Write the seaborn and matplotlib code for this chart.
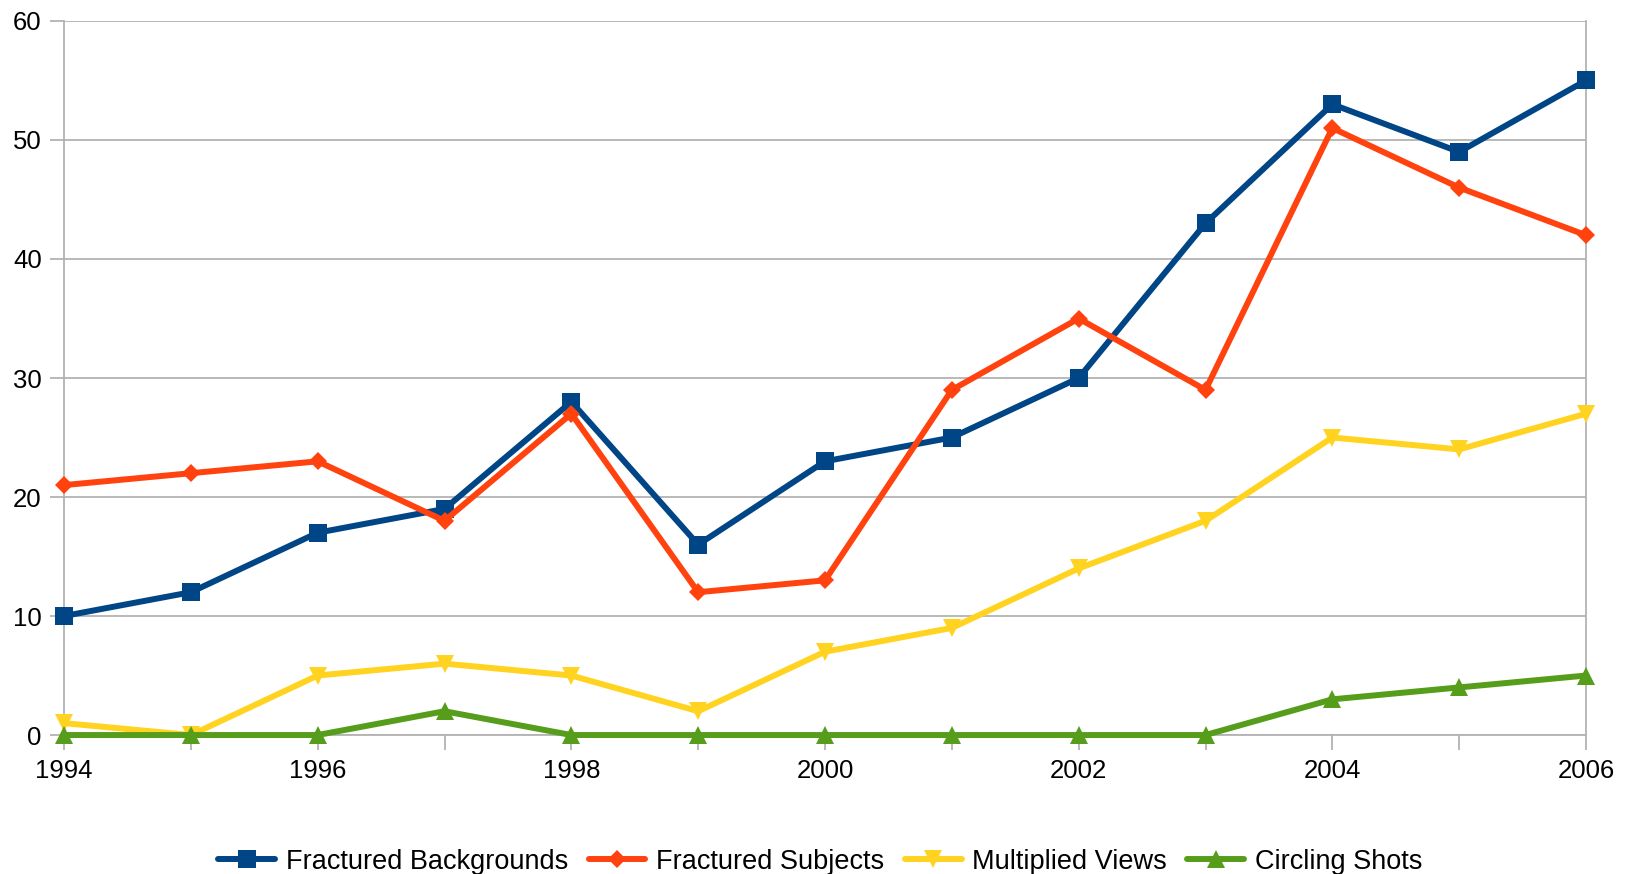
import pandas as pd
import matplotlib
matplotlib.use("Agg")
import matplotlib.pyplot as plt
import seaborn as sns

# Datos del gráfico
years = list(range(1994, 2007))
fractured_backgrounds = [10, 12, 17, 19, 28, 16, 23, 25, 30, 43, 53, 49, 55]
fractured_subjects = [21, 22, 23, 18, 27, 12, 13, 29, 35, 29, 51, 46, 42]
multiplied_views = [1, 0, 5, 6, 5, 2, 7, 9, 14, 18, 25, 24, 27]
circling_shots = [0, 0, 0, 2, 0, 0, 0, 0, 0, 0, 3, 4, 5]

series_names = ["Fractured Backgrounds", "Fractured Subjects", "Multiplied Views", "Circling Shots"]
series_values = [fractured_backgrounds, fractured_subjects, multiplied_views, circling_shots]
colors = ["#004586", "#ff420e", "#ffd320", "#579d1c"]
markers = ["s", "D", "v", "^"]
marker_sizes = [13, 9, 13, 13]

# Pasamos a formato largo
df = pd.concat([
    pd.DataFrame({"year": years, "value": vals, "serie": name})
    for name, vals in zip(series_names, series_values)
])

sns.set_style("white")
plt.rcParams["font.family"] = ["Liberation Sans", "DejaVu Sans"]
plt.rcParams["text.color"] = "black"

fig = plt.figure(figsize=(16.29, 8.74), dpi=100)
ax = fig.add_axes([0.0393, 0.159, 0.9343, 0.817])

for name, color, mk, ms in zip(series_names, colors, markers, marker_sizes):
    sns.lineplot(data=df[df["serie"] == name], x="year", y="value", ax=ax,
                 color=color, marker=mk, markersize=ms, markeredgewidth=0,
                 linewidth=4.3, label=name, clip_on=False, zorder=3)

ax.set_xlim(1994, 2006)
ax.set_ylim(0, 60)
ax.set_yticks(range(0, 61, 10))
ax.set_xticks(years, minor=True)
ax.set_xticks(range(1994, 2007, 2))
ax.set_xlabel("")
ax.set_ylabel("")

ax.grid(axis="y", color="#b3b3b3", linewidth=1.3)
ax.set_axisbelow(True)
for side in ["left", "right", "top", "bottom"]:
    ax.spines[side].set_color("#b3b3b3")
    ax.spines[side].set_linewidth(1.3)
ax.spines["top"].set_visible(False)

ax.tick_params(axis="y", which="major", length=10, width=1.3, color="#b3b3b3",
               labelsize=18.5, left=True, pad=6, labelcolor="black")
ax.tick_params(axis="x", which="both", length=11, width=1.3, color="#b3b3b3",
               labelsize=18.5, bottom=True, pad=6, labelcolor="black")

ax.legend(loc="upper center", bbox_to_anchor=(0.497, -0.125), ncol=4, frameon=False,
          fontsize=19.5, handlelength=2.1, columnspacing=0.75, handletextpad=0.4,
          labelcolor="black")

plt.savefig("out.png", dpi=100)
plt.close()
